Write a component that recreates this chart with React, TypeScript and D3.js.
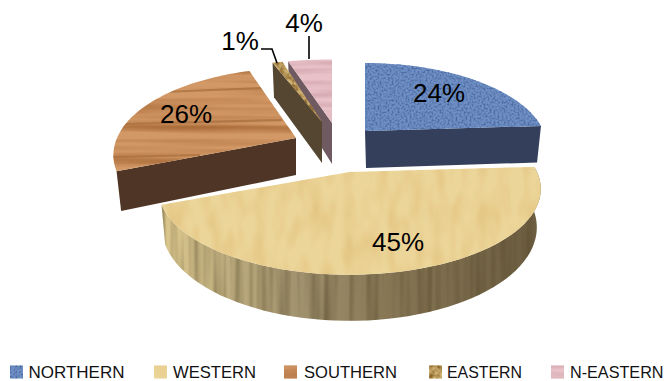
import React from "react";
import * as d3 from "d3";

// Regional share of the total, in percent, clockwise from twelve o'clock.
const regions = ["NORTHERN", "WESTERN", "SOUTHERN", "EASTERN", "N-EASTERN"];
const shares = [24, 45, 26, 1, 4];
const shareLabels = ["24%", "45%", "26%", "1%", "4%"];

const width = 665;
const height = 381;
const perspective = 0.197;
const vanishX = 345;

type Geo = { ax: number; ay: number; rx: number; ry: number; h: number; top: string; side: string; face: string };

// Where each exploded wedge sits on the page and how it is painted.
const wedgeGeometry: Record<string, Geo> = {
  NORTHERN: { ax: 365, ay: 131, rx: 178.5, ry: 81.4, h: 37, top: "blue", side: "#333f5b", face: "edge" },
  WESTERN: { ax: 349.5, ay: 172, rx: 187.5, ry: 82.5, h: 37, top: "paper", side: "url(#paperWall)", face: "rim" },
  SOUTHERN: { ax: 296, ay: 138, rx: 179, ry: 83.6, h: 37, top: "wood", side: "#4f3525", face: "edge" },
  EASTERN: { ax: 322, ay: 122, rx: 190, ry: 74, h: 41, top: "oak", side: "#544630", face: "leftEdge" },
  "N-EASTERN": { ax: 332, ay: 123, rx: 210, ry: 76, h: 41, top: "pink", side: "#6e5a60", face: "leftEdge" },
};

const drawOrder = ["NORTHERN", "N-EASTERN", "EASTERN", "SOUTHERN", "WESTERN"];

const labelAnchors = [
  { x: 439, y: 102 },
  { x: 398, y: 251 },
  { x: 186, y: 123 },
  { x: 240, y: 50 },
  { x: 304, y: 32 },
];

const leaders = [
  [[261, 49], [272, 49], [277, 63]],
  [[309, 36], [309, 59]],
];

// Darker grain bands across the southern wedge's wood.
const woodStreaks = [
  [[150, 92.5], [262, 88]],
  [[125, 124], [282, 120]],
  [[113, 157], [200, 155]],
];

const legendSwatchX = [10, 154, 284, 429, 551];
const legendTextX = [28.5, 173, 304, 447, 570];
const legendTextEnd = [124.5, 256, 397, 522, 663.5];
const legendFills = ["blue", "paper", "wood", "oak", "pink"];

type Pt = [number, number];

function project(g: Geo, theta: number): Pt {
  const c = Math.cos(theta);
  const w = 1 / (1 + perspective * c);
  return [g.ax + g.rx * Math.sin(theta) * w, g.ay - g.ry * c * w];
}

// A point on the lower rim, directly under a point of the top face.
function dropped(g: Geo, p: Pt, theta: number | null): Pt {
  const w = theta === null ? 1 : 1 / (1 + perspective * Math.cos(theta));
  return [vanishX + (p[0] - vanishX) * 0.98, p[1] + g.h * w];
}

const pathOf = d3.line<Pt>().curve(d3.curveLinear);

function Grain(props: { id: string; freq: string; tint: number[]; k: number; off: number; seed: number; soft?: number }) {
  const { id, freq, tint, k, off, seed, soft = 0.5 } = props;
  return (
    <filter id={id} x="0" y="0" width="1" height="1" colorInterpolationFilters="sRGB">
      <feTurbulence type="fractalNoise" baseFrequency={freq} numOctaves={2} seed={seed} result="n" />
      <feGaussianBlur in="n" stdDeviation={soft} result="b" />
      <feColorMatrix
        in="b"
        type="matrix"
        values={`0 0 0 0 ${tint[0]} 0 0 0 0 ${tint[1]} 0 0 0 0 ${tint[2]} ${k} 0 0 0 ${off}`}
        result="t"
      />
      <feComposite in="t" in2="SourceGraphic" operator="in" result="c" />
      <feMerge>
        <feMergeNode in="SourceGraphic" />
        <feMergeNode in="c" />
      </feMerge>
    </filter>
  );
}

const surfaces: Record<string, { fill: string; filter: string }> = {
  blue: { fill: "#7091c6", filter: "url(#grainBlue)" },
  paper: { fill: "#ecd599", filter: "url(#grainPaper)" },
  wood: { fill: "#d29866", filter: "url(#grainWood)" },
  oak: { fill: "#cdb070", filter: "url(#grainOak)" },
  pink: { fill: "#e8c2c8", filter: "url(#grainPink)" },
};

export default function App() {
  const arcs = d3.pie<number>().sort(null)(shares);

  const wedges = drawOrder.map((name) => {
    const i = regions.indexOf(name);
    const g = wedgeGeometry[name];
    const a = arcs[i];
    const steps = d3.range(0, 61).map((t) => a.startAngle + ((a.endAngle - a.startAngle) * t) / 60);
    const rim = steps.map((t) => project(g, t));
    const apex: Pt = [g.ax, g.ay];
    const apexLow: Pt = [g.ax + (g.ax > vanishX ? 1 : 0), g.ay + g.h];

    let wall: Pt[];
    if (g.face === "rim") {
      const low = steps.map((t, j) => dropped(g, rim[j], t));
      wall = [...rim, ...low.reverse()];
    } else {
      // The cut face that looks toward the viewer: the clockwise radius for
      // the first wedge, the counter-clockwise radius for the others.
      const t = name === "NORTHERN" ? a.endAngle : a.startAngle;
      const p = project(g, t);
      wall = [apex, p, dropped(g, p, t), apexLow];
    }
    return { name, g, wall, top: [apex, ...rim] };
  });

  const southernTop = wedges.find((w) => w.name === "SOUTHERN")!.top;

  return (
    <svg
      width={width}
      height={height}
      viewBox={`0 0 ${width} ${height}`}
      style={{ position: "absolute", left: 0, top: 0, background: "#fff" }}
    >
      <defs>
        <linearGradient id="paperWall" gradientUnits="userSpaceOnUse" x1="162" y1="0" x2="540" y2="0">
          <stop offset="0" stopColor="#dcc88e" />
          <stop offset="0.12" stopColor="#c6b482" />
          <stop offset="0.35" stopColor="#a39470" />
          <stop offset="0.6" stopColor="#867654" />
          <stop offset="1" stopColor="#6c5c40" />
        </linearGradient>
        <clipPath id="southernClip">
          <path d={pathOf(southernTop) + "Z"} />
        </clipPath>
        <Grain id="grainBlue" freq="0.5 0.5" tint={[0.28, 0.4, 0.62]} k={2.6} off={-1.05} seed={4} soft={0.4} />
        <Grain id="grainPaper" freq="0.09 0.03" tint={[0.88, 0.75, 0.48]} k={1.5} off={-0.6} seed={8} soft={1.4} />
        <Grain id="grainWood" freq="0.004 0.12" tint={[0.66, 0.42, 0.22]} k={2.2} off={-0.9} seed={11} soft={0.6} />
        <Grain id="grainOak" freq="0.2 0.2" tint={[0.55, 0.4, 0.18]} k={2.6} off={-1} seed={3} />
        <Grain id="grainPink" freq="0.01 0.16" tint={[0.8, 0.6, 0.64]} k={1.6} off={-0.65} seed={6} />
        <Grain id="grainWall" freq="0.12 0.004" tint={[0.3, 0.25, 0.14]} k={1.2} off={-0.5} seed={5} soft={0.6} />
      </defs>

      {wedges.map(({ name, g, wall, top }) => (
        <g key={name}>
          <path d={pathOf(wall) + "Z"} fill={g.side} filter={g.face === "rim" ? "url(#grainWall)" : undefined} />
          <path d={pathOf(top) + "Z"} fill={surfaces[g.top].fill} filter={surfaces[g.top].filter} />
        </g>
      ))}

      <g clipPath="url(#southernClip)">
        {woodStreaks.map((pts, i) => (
          <path key={i} d={pathOf(pts as Pt[]) ?? ""} stroke="#a86f3e" strokeOpacity={0.75} strokeWidth={2.2} fill="none" />
        ))}
      </g>

      {leaders.map((pts, i) => (
        <path key={i} d={pathOf(pts as Pt[]) ?? ""} fill="none" stroke="#000" strokeWidth={1.6} />
      ))}

      {shareLabels.map((t, i) => (
        <text
          key={t}
          x={labelAnchors[i].x}
          y={labelAnchors[i].y}
          textAnchor="middle"
          fontFamily="Liberation Sans, Arial, sans-serif"
          fontSize={26}
          fill="#000"
        >
          {t}
        </text>
      ))}

      {regions.map((name, i) => (
        <g key={name}>
          <rect
            x={legendSwatchX[i]}
            y={365.5}
            width={13}
            height={13}
            fill={surfaces[legendFills[i]].fill}
            filter={surfaces[legendFills[i]].filter}
          />
          <text
            x={legendTextX[i]}
            y={377.5}
            fontFamily="Liberation Sans, Arial, sans-serif"
            fontSize={16.5}
            fill="#111"
            textLength={legendTextEnd[i] - legendTextX[i]}
            lengthAdjust="spacingAndGlyphs"
          >
            {name}
          </text>
        </g>
      ))}
    </svg>
  );
}
